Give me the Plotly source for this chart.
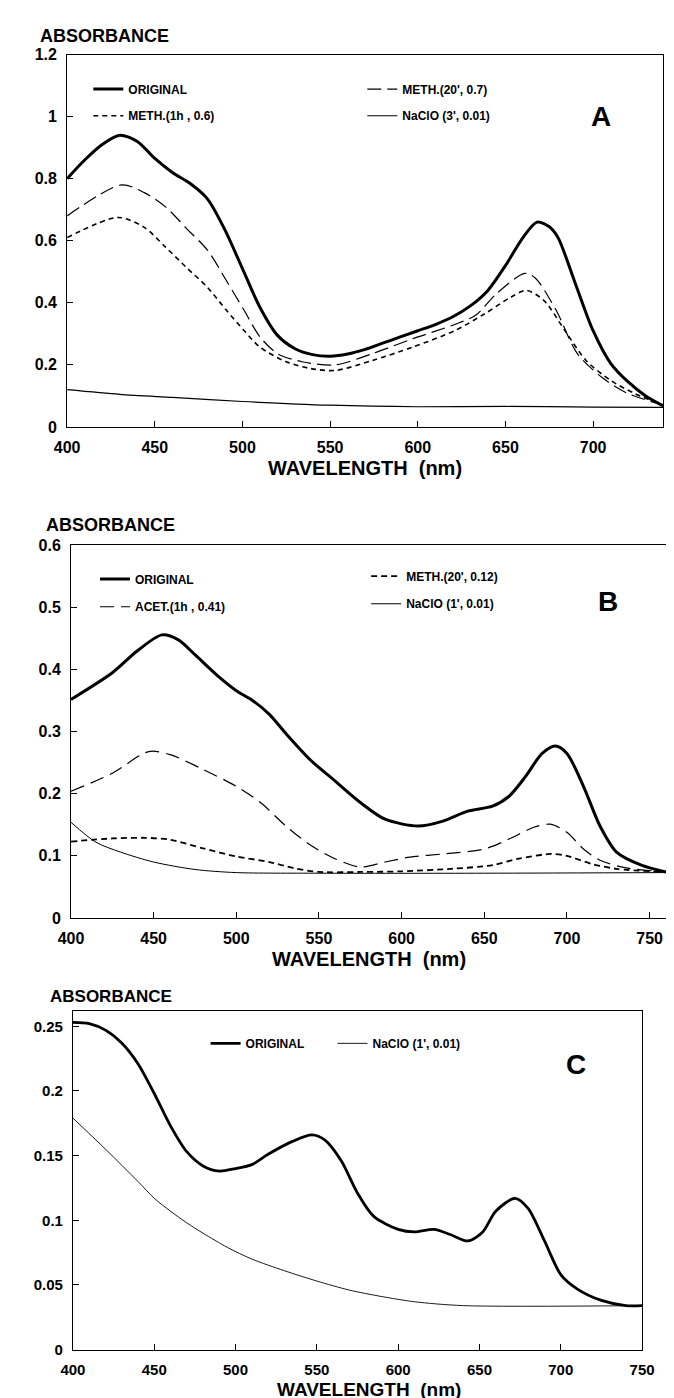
import plotly.graph_objects as go

W, H = 674, 1398

# ---------------- DATA ----------------
# Panel A
A_orig_x = [400, 410, 420, 430, 440, 450, 460, 470, 480, 490, 500, 510, 520, 530, 540, 550, 560, 570, 580, 590,
            600, 610, 620, 630, 640, 650, 660, 668, 675, 680, 690, 700, 710, 720, 730, 740]
A_orig_y = [0.80, 0.86, 0.91, 0.94, 0.92, 0.865, 0.82, 0.785, 0.735, 0.635, 0.51, 0.385, 0.295, 0.252, 0.233, 0.228,
            0.235, 0.25, 0.27, 0.29, 0.31, 0.33, 0.355, 0.39, 0.44, 0.52, 0.61, 0.66, 0.645, 0.61, 0.46, 0.31,
            0.205, 0.145, 0.10, 0.068]
A_m20_x = [400, 431, 444, 456, 468, 480, 491, 501, 510, 520, 534, 553, 574, 597, 621, 633, 645, 661, 667, 679,
           691, 705, 719, 740]
A_m20_y = [0.68, 0.78, 0.755, 0.71, 0.64, 0.57, 0.47, 0.375, 0.29, 0.236, 0.21, 0.20, 0.236, 0.284, 0.33, 0.36,
           0.43, 0.495, 0.48, 0.375, 0.236, 0.16, 0.11, 0.07]
A_m1h_x = [400, 429, 444, 456, 468, 480, 491, 501, 510, 525, 539, 553, 574, 597, 621, 638, 653, 662, 672, 684,
           696, 710, 724, 740]
A_m1h_y = [0.61, 0.675, 0.643, 0.58, 0.514, 0.45, 0.375, 0.31, 0.257, 0.21, 0.188, 0.182, 0.214, 0.257, 0.31,
           0.364, 0.418, 0.44, 0.407, 0.31, 0.214, 0.15, 0.107, 0.07]
A_nac_x = [400, 430, 460, 500, 550, 600, 650, 700, 740]
A_nac_y = [0.12, 0.105, 0.095, 0.082, 0.07, 0.065, 0.066, 0.064, 0.063]

# Panel B
B_orig_x = [400, 425, 440, 455, 465, 475, 490, 500, 510, 520, 530, 545, 560, 575, 590, 610, 625, 640, 655, 665,
            675, 685, 693, 700, 710, 720, 730, 745, 760]
B_orig_y = [0.352, 0.395, 0.43, 0.456, 0.448, 0.424, 0.387, 0.366, 0.35, 0.328, 0.297, 0.254, 0.22, 0.186, 0.159,
            0.148, 0.156, 0.172, 0.18, 0.196, 0.228, 0.265, 0.277, 0.265, 0.212, 0.148, 0.106, 0.085, 0.074]
B_acet_x = [400, 425, 447, 460, 480, 500, 515, 530, 545, 560, 575, 590, 605, 625, 650, 665, 680, 690, 700, 710,
            720, 735, 760]
B_acet_y = [0.204, 0.233, 0.268, 0.263, 0.239, 0.212, 0.185, 0.148, 0.117, 0.095, 0.082, 0.09, 0.098, 0.103,
            0.111, 0.127, 0.146, 0.151, 0.138, 0.111, 0.093, 0.081, 0.074]
B_m20_x = [400, 425, 445, 460, 480, 500, 520, 535, 550, 575, 600, 630, 655, 670, 690, 700, 715, 730, 760]
B_m20_y = [0.123, 0.128, 0.129, 0.126, 0.112, 0.099, 0.09, 0.08, 0.074, 0.074, 0.075, 0.079, 0.085, 0.095, 0.103,
           0.10, 0.087, 0.079, 0.074]
B_nac_x = [400, 415, 430, 450, 475, 500, 550, 650, 760]
B_nac_y = [0.154, 0.122, 0.106, 0.09, 0.078, 0.073, 0.072, 0.072, 0.073]

# Panel C
C_orig_x = [400, 410, 420, 430, 440, 450, 460, 470, 480, 490, 500, 510, 520, 535, 547, 555, 565, 575, 585, 600,
            610, 622, 632, 643, 652, 660, 672, 680, 690, 700, 710, 725, 740, 750]
C_orig_y = [0.253, 0.252, 0.247, 0.237, 0.221, 0.198, 0.173, 0.153, 0.142, 0.138, 0.14, 0.143, 0.151, 0.161,
            0.166, 0.162, 0.146, 0.121, 0.103, 0.093, 0.091, 0.093, 0.089, 0.084, 0.091, 0.107, 0.117, 0.109,
            0.084, 0.058, 0.047, 0.038, 0.034, 0.034]
C_nac_x = [400, 420, 440, 450, 460, 470, 480, 495, 510, 530, 550, 570, 590, 610, 640, 750]
C_nac_y = [0.179, 0.155, 0.130, 0.117, 0.107, 0.098, 0.09, 0.079, 0.07, 0.061, 0.053, 0.046, 0.041, 0.037, 0.034,
           0.034]

A_ticks = [400, 450, 500, 550, 600, 650, 700]
B_ticks = [400, 450, 500, 550, 600, 650, 700, 750]
C_ticks = [400, 450, 500, 550, 600, 650, 700, 750]

# ---------------- LAYOUT HELPERS ----------------
FONT = "Liberation Sans, Arial, sans-serif"


def fx(p):
    return p / W


def fy(p):
    return 1 - p / H


# plot boxes in pixels: (left, right, top, bottom)
boxA = (48, 668, 39, 416)
boxB = (52, 671, 536, 913)
boxC = (54, 646, 1007, 1350)

fig = go.Figure()


def add(x, y, ax, name, legend, width, dash, color="black"):
    fig.add_trace(go.Scatter(
        x=x, y=y, xaxis="x" + ax, yaxis="y" + ax, mode="lines", name=name, legend=legend,
        line=dict(color=color, width=width, dash=dash, shape="spline", smoothing=0.8),
        showlegend=True, hoverinfo="skip"))


add(A_orig_x, A_orig_y, "", "ORIGINAL", "legend", 3, "solid")
add(A_m1h_x, A_m1h_y, "", "METH.(1h , 0.6)", "legend2", 1.6, "5px,4px")
add(A_m20_x, A_m20_y, "", "METH.(20', 0.7)", "legend3", 1.2, "14px,6px")
add(A_nac_x, A_nac_y, "", "NaClO (3', 0.01)", "legend4", 1.2, "solid")

add(B_orig_x, B_orig_y, "2", "ORIGINAL", "legend5", 3, "solid")
add(B_acet_x, B_acet_y, "2", "ACET.(1h , 0.41)", "legend6", 1.2, "14px,7px")
add(B_m20_x, B_m20_y, "2", "METH.(20', 0.12)", "legend7", 1.8, "6px,4px")
add(B_nac_x, B_nac_y, "2", "NaClO (1', 0.01)", "legend8", 1.0, "solid")

add(C_orig_x, C_orig_y, "3", "ORIGINAL", "legend9", 2.8, "solid")
add(C_nac_x, C_nac_y, "3", "NaClO (1', 0.01)", "legend10", 0.9, "solid")


def xax(box, rng, ticks, anchor, size):
    return dict(domain=[fx(box[0]), fx(box[1])], range=rng, tickvals=ticks, anchor=anchor,
                showline=True, linecolor="black", linewidth=1, mirror=True, ticks="inside", ticklen=6,
                tickcolor="black", showgrid=False, zeroline=False, ticklabelstandoff=6,
                tickfont=dict(family=FONT, size=size, color="black", weight="bold"), fixedrange=True)


def yax(box, rng, dtick, anchor, size):
    return dict(domain=[fy(box[3]), fy(box[2])], range=rng, dtick=dtick, tick0=0, anchor=anchor,
                showline=True, linecolor="black", linewidth=1, mirror=True, ticks="inside", ticklen=6,
                tickcolor="black", showgrid=False, zeroline=False, ticklabelstandoff=6,
                tickfont=dict(family=FONT, size=size, color="black", weight="bold"), fixedrange=True)


def leg(xp, yp, size=12):
    return dict(x=fx(xp), y=fy(yp), xanchor="left", yanchor="middle", bgcolor="rgba(0,0,0,0)",
                borderwidth=0, itemwidth=30, font=dict(family=FONT, size=size, color="black", weight="bold"),
                itemclick=False, itemdoubleclick=False)


anns = []


def text(s, xp, yp, size, xanchor="left"):
    anns.append(dict(text=s, x=fx(xp), y=fy(yp), xref="paper", yref="paper", showarrow=False,
                     xanchor=xanchor, yanchor="middle",
                     font=dict(family=FONT, size=size, color="black", weight="bold")))


text("ABSORBANCE", 18, 20, 18)
text("WAVELENGTH  (nm)", 358, 458, 20, "center")
text("A", 603, 102, 28, "center")
text("ABSORBANCE", 24, 515, 18)
text("WAVELENGTH  (nm)", 362, 955, 20, "center")
text("B", 611, 593, 28, "center")
text("ABSORBANCE", 28, 993, 17)
text("WAVELENGTH  (nm)", 362, 1390, 19, "center")
text("C", 577, 1061, 28, "center")

fig.update_layout(
    width=W, height=H, margin=dict(l=0, r=0, t=0, b=0),
    paper_bgcolor="white", plot_bgcolor="white",
    xaxis=xax(boxA, [400, 740], A_ticks, "y", 16),
    yaxis=yax(boxA, [0, 1.2], 0.2, "x", 16),
    xaxis2=xax(boxB, [400, 760], B_ticks, "y2", 16),
    yaxis2=yax(boxB, [0, 0.6], 0.1, "x2", 16),
    xaxis3=xax(boxC, [400, 750], C_ticks, "y3", 15),
    yaxis3=yax(boxC, [0, 0.262], 0.05, "x3", 15),
    legend=leg(70, 74), legend2=leg(70, 101),
    legend3=leg(355, 74), legend4=leg(355, 101),
    legend5=leg(77, 570), legend6=leg(77, 598),
    legend7=leg(359, 567), legend8=leg(359, 595),
    legend9=leg(192, 1040), legend10=leg(324, 1040),
    annotations=anns,
    showlegend=True,
)

fig.write_html("out.html")
